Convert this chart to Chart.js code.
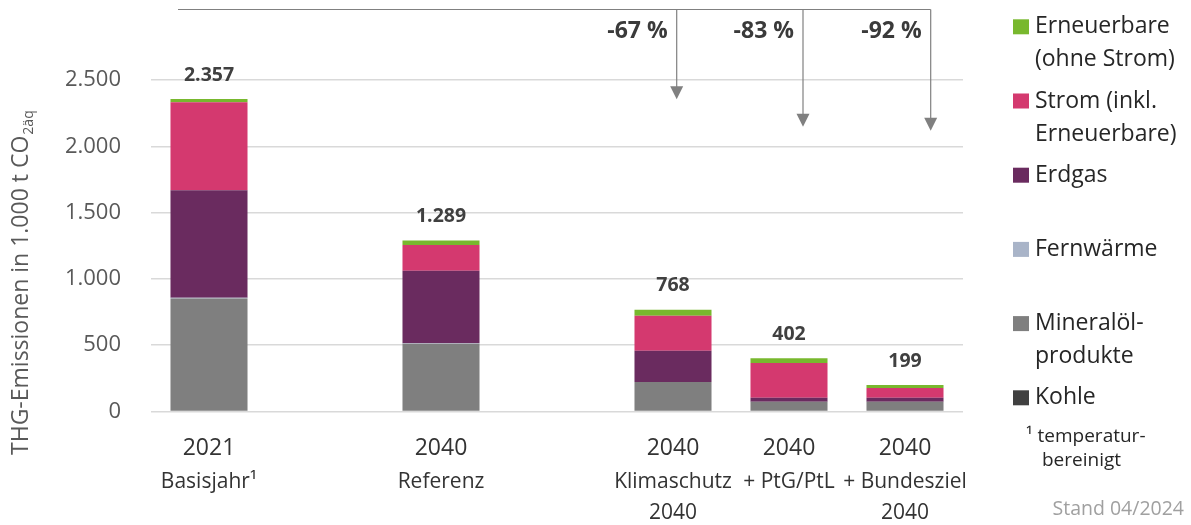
<!DOCTYPE html>
<html lang="de">
<head>
<meta charset="utf-8">
<title>THG-Emissionen</title>
<script src="https://cdn.jsdelivr.net/npm/chart.js@4/dist/chart.umd.min.js"></script>
<style>
  html, body { margin: 0; padding: 0; background: #fff; }
  #wrap { width: 1191px; height: 525px; }
</style>
</head>
<body>
<div id="wrap"><canvas id="c" width="1191" height="525"></canvas></div>
<script>
// Categories (empty slots keep the gaps between the groups)
const categories = ['2021', '', '2040', '', '2040', '2040', '2040'];
const scenarioLines = [['Basisjahr¹'], [], ['Referenz'], [], ['Klimaschutz', '2040'], ['+ PtG/PtL'], ['+ Bundesziel', '2040']];

// Emissions by energy carrier, 1.000 t CO2äq (bottom to top of the stack)
const kohle       = [0,   null, 0,   null, 0,   0,   0];
const mineraloel  = [852, null, 510, null, 222, 74,  74];
const fernwaerme  = [6,   null, 4,   null, 0,   0,   0];
const erdgas      = [810, null, 548, null, 237, 30,  30];
const strom       = [664, null, 194, null, 263, 262, 73];
const erneuerbare = [25,  null, 33,  null, 46,  36,  22];

// Y axis ticks
const yTicks = [0, 500, 1000, 1500, 2000, 2500];

// Reduction arrows: scenario indices compared with the base year
const baseIndex = 0;
const reductionIndices = [4, 5, 6];

// Legend entries (top to bottom) and their text lines
const legendLines = [
  ['Erneuerbare', '(ohne Strom)'],
  ['Strom (inkl.', 'Erneuerbare)'],
  ['Erdgas'],
  ['Fernwärme'],
  ['Mineralöl-', 'produkte'],
  ['Kohle']
];
const footnoteLines = ['¹ temperatur-', 'bereinigt'];
const standText = 'Stand 04/2024';

const FONT = "'Open Sans', 'Noto Sans', sans-serif";
const colors = {
  kohle: '#404040',
  mineraloel: '#7f7f7f',
  fernwaerme: '#a9b4c8',
  erdgas: '#6a2b5f',
  strom: '#d4396f',
  erneuerbare: '#78b82e'
};

function fmtDE(v) {
  return String(Math.round(v)).replace(/\B(?=(\d{3})+(?!\d))/g, '.');
}

const datasets = [
  { label: 'Kohle', data: kohle, backgroundColor: colors.kohle },
  { label: 'Mineralölprodukte', data: mineraloel, backgroundColor: colors.mineraloel },
  { label: 'Fernwärme', data: fernwaerme, backgroundColor: colors.fernwaerme },
  { label: 'Erdgas', data: erdgas, backgroundColor: colors.erdgas },
  { label: 'Strom (inkl. Erneuerbare)', data: strom, backgroundColor: colors.strom },
  { label: 'Erneuerbare (ohne Strom)', data: erneuerbare, backgroundColor: colors.erneuerbare }
].map(d => Object.assign(d, { barPercentage: 0.664, categoryPercentage: 1, borderWidth: 0 }));

function totalAt(i) {
  return datasets.reduce((s, d) => s + (d.data[i] || 0), 0);
}

// Totals above each bar
const totalsPlugin = {
  id: 'totals',
  afterDatasetsDraw(chart) {
    const { ctx, scales: { x, y } } = chart;
    ctx.save();
    ctx.font = `bold 19.5px ${FONT}`;
    ctx.fillStyle = '#404040';
    ctx.textAlign = 'center';
    ctx.textBaseline = 'middle';
    categories.forEach((c, i) => {
      if (datasets.every(d => d.data[i] == null)) return;
      const t = totalAt(i);
      ctx.fillText(fmtDE(t), x.getPixelForValue(i), y.getPixelForValue(t) - 24);
    });
    ctx.restore();
  }
};

// Category labels under the bars (year + scenario lines)
const xLabelsPlugin = {
  id: 'xLabels',
  afterDraw(chart) {
    const { ctx, scales: { x } } = chart;
    ctx.save();
    ctx.textAlign = 'center';
    ctx.textBaseline = 'middle';
    ctx.fillStyle = '#333333';
    categories.forEach((c, i) => {
      if (!c) return;
      const px = x.getPixelForValue(i);
      ctx.font = `23px ${FONT}`;
      ctx.fillText(c, px, 448);
      ctx.font = `21px ${FONT}`;
      scenarioLines[i].forEach((line, k) => ctx.fillText(line, px, 482 + k * 31.5));
    });
    ctx.restore();
  }
};

// Reduction arrows from the base-year line down to each scenario
const arrowsPlugin = {
  id: 'arrows',
  afterDraw(chart) {
    const { ctx, scales: { x } } = chart;
    const lineY = 9.5;
    const startX = x.getPixelForValue(baseIndex) - 31;
    const offsets = [3.7, 14, 25.7];
    const tips = [99.3, 126.7, 130.7];
    const base = totalAt(baseIndex);
    const xs = reductionIndices.map((idx, k) => x.getPixelForValue(idx) + offsets[k]);
    ctx.save();
    ctx.strokeStyle = '#808080';
    ctx.fillStyle = '#808080';
    ctx.lineWidth = 1.2;
    ctx.beginPath();
    ctx.moveTo(startX, lineY);
    ctx.lineTo(xs[xs.length - 1], lineY);
    ctx.stroke();
    xs.forEach((ax, k) => {
      ctx.beginPath();
      ctx.moveTo(ax, lineY);
      ctx.lineTo(ax, tips[k] - 12);
      ctx.stroke();
      ctx.beginPath();
      ctx.moveTo(ax - 6.5, tips[k] - 13);
      ctx.lineTo(ax + 6.5, tips[k] - 13);
      ctx.lineTo(ax, tips[k]);
      ctx.closePath();
      ctx.fill();
    });
    ctx.font = `bold 23px ${FONT}`;
    ctx.fillStyle = '#3a3a3a';
    ctx.textAlign = 'right';
    ctx.textBaseline = 'middle';
    reductionIndices.forEach((idx, k) => {
      const p = Math.round((totalAt(idx) / base - 1) * 100);
      ctx.fillText(`${p} %`, xs[k] - 9, 31);
    });
    ctx.restore();
  }
};

// Legend, footnote and date on the right side
const sideLegendPlugin = {
  id: 'sideLegend',
  afterDraw(chart) {
    const { ctx } = chart;
    const order = datasets.slice().reverse();
    ctx.save();
    ctx.textAlign = 'left';
    ctx.textBaseline = 'middle';
    legendLines.forEach((lines, i) => {
      const cy = 26.8 + i * 74.2;
      ctx.fillStyle = order[i].backgroundColor;
      ctx.fillRect(1013, cy - 7.5, 16, 15);
      ctx.fillStyle = '#262626';
      ctx.font = `23px ${FONT}`;
      lines.forEach((line, k) => ctx.fillText(line, 1035, cy + k * 33));
    });
    ctx.font = `19px ${FONT}`;
    ctx.fillStyle = '#262626';
    ctx.fillText(footnoteLines[0], 1026, 437);
    ctx.fillText(footnoteLines[1], 1042, 461);
    ctx.fillStyle = '#a0a0a0';
    ctx.font = `19.5px ${FONT}`;
    ctx.textAlign = 'right';
    ctx.fillText(standText, 1184, 509);
    ctx.restore();
  }
};

// Rotated y-axis title with subscript
const yTitlePlugin = {
  id: 'yTitle',
  afterDraw(chart) {
    const { ctx } = chart;
    const main = 'THG-Emissionen in 1.000 t CO';
    const sub = '2äq';
    ctx.save();
    ctx.translate(28, 455);
    ctx.rotate(-Math.PI / 2);
    ctx.fillStyle = '#595959';
    ctx.textAlign = 'left';
    ctx.textBaseline = 'alphabetic';
    ctx.font = `23px ${FONT}`;
    ctx.fillText(main, 0, 0);
    const w = ctx.measureText(main).width;
    ctx.font = `14px ${FONT}`;
    ctx.fillText(sub, w + 1, 5);
    ctx.restore();
  }
};

new Chart(document.getElementById('c'), {
  type: 'bar',
  data: { labels: categories, datasets },
  options: {
    responsive: false,
    animation: false,
    layout: { padding: { top: 80, right: 228, left: 0, bottom: 0 } },
    plugins: { legend: { display: false }, tooltip: { enabled: false } },
    scales: {
      x: {
        stacked: true,
        grid: { display: false },
        border: { display: false },
        ticks: { display: false },
        afterFit(a) { a.height = 113.5; }
      },
      y: {
        stacked: true,
        min: yTicks[0],
        max: yTicks[yTicks.length - 1],
        afterBuildTicks(a) { a.ticks = yTicks.map(v => ({ value: v })); },
        ticks: {
          font: { family: FONT, size: 22 },
          color: '#595959',
          padding: 30,
          callback: v => fmtDE(v)
        },
        grid: { color: '#d9d9d9', lineWidth: 1.5, drawTicks: false },
        border: { display: false },
        afterFit(a) { a.width = 151; }
      }
    }
  },
  plugins: [totalsPlugin, xLabelsPlugin, arrowsPlugin, sideLegendPlugin, yTitlePlugin]
});
</script>
</body>
</html>
